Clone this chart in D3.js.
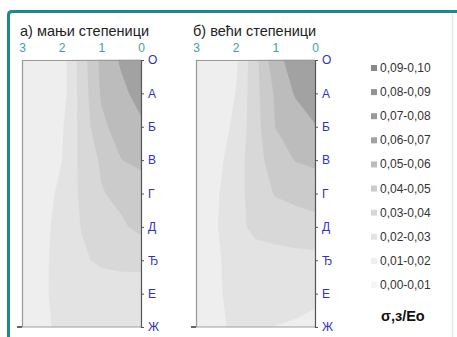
<!DOCTYPE html>
<html><head><meta charset="utf-8">
<script src="https://cdn.jsdelivr.net/npm/d3@7"></script>
<style>
html,body{margin:0;padding:0;background:#fff;}
svg{display:block;font-family:"Liberation Sans",Arial,sans-serif;}
</style></head>
<body>
<svg id="chart" width="457" height="337"></svg>
<script>
// ---------- data ----------
const panelTitles = ["а) мањи степеници", "б) већи степеници"];
const xTickValues = [3, 2, 1, 0];
const xTickLabels = ["3", "2", "1", "0"];
const rowLabels = ["О", "А", "Б", "В", "Г", "Д", "Ђ", "Е", "Ж"];
const gridX = [0, 0.5, 1, 1.5, 2, 2.5, 3];   // grid columns (distance)
const thresholds = [0.00, 0.01, 0.02, 0.03, 0.04, 0.05, 0.06, 0.07, 0.08, 0.09];
const legendLabels = ["0,09-0,10","0,08-0,09","0,07-0,08","0,06-0,07","0,05-0,06",
                      "0,04-0,05","0,03-0,04","0,02-0,03","0,01-0,02","0,00-0,01"];
const legendTitle = "σ,з/Eo";
// rows О..Ж, columns x = 0, 0.5, 1, 1.5, 2, 2.5, 3
const valuesSmaller = [
  [0.068, 0.0614, 0.0524, 0.0348, 0.0148, 0.012, 0.011],
  [0.064, 0.0573, 0.051, 0.0341, 0.015, 0.013, 0.012],
  [0.058, 0.0538, 0.048, 0.0332, 0.0185, 0.014, 0.013],
  [0.052, 0.0498, 0.0414, 0.0325, 0.0198, 0.015, 0.013],
  [0.0453, 0.0425, 0.0393, 0.0318, 0.0221, 0.016, 0.014],
  [0.0425, 0.0385, 0.0344, 0.0303, 0.0231, 0.0175, 0.015],
  [0.0325, 0.0323, 0.0315, 0.0287, 0.0235, 0.018, 0.016],
  [0.0255, 0.0255, 0.025, 0.024, 0.0215, 0.0192, 0.017],
  [0.024, 0.024, 0.0235, 0.023, 0.0215, 0.0185, 0.017]
];
const valuesLarger = [
  [0.067, 0.064, 0.057, 0.0371, 0.0175, 0.0135, 0.012],
  [0.0645, 0.0608, 0.0513, 0.0368, 0.0201, 0.0145, 0.013],
  [0.0595, 0.0548, 0.0501, 0.0363, 0.0218, 0.0155, 0.0135],
  [0.0515, 0.0503, 0.0447, 0.0362, 0.0247, 0.017, 0.0145],
  [0.0455, 0.0431, 0.0407, 0.0344, 0.0262, 0.0185, 0.0155],
  [0.0355, 0.0345, 0.0333, 0.0322, 0.0272, 0.019, 0.016],
  [0.0276, 0.0274, 0.027, 0.0262, 0.0238, 0.0185, 0.016],
  [0.0215, 0.0232, 0.0245, 0.0242, 0.0228, 0.0185, 0.0165],
  [0.0182, 0.019, 0.0198, 0.0215, 0.0212, 0.0185, 0.0165]
];
const palette = ["#f5f5f5","#eeeeee","#e3e3e3","#d8d8d8","#cbcbcb","#bcbcbc","#a2a2a2","#9a9a9a","#929292","#8a8a8a"];

// ---------- layout ----------
const svg = d3.select("#chart");
const yTop = 60, yBottom = 327;
const panels = [
  {x0: 22, x1: 141, values: valuesSmaller, title: panelTitles[0], tx: 20},
  {x0: 196, x1: 315, values: valuesLarger, title: panelTitles[1], tx: 193}
];

// frame
svg.append("path")
  .attr("d", "M8.5,337 V15 Q8.5,11.5 12,11.5 H457")
  .attr("fill", "none").attr("stroke", "#22878a").attr("stroke-width", 3);
svg.append("line").attr("x1", 452.5).attr("x2", 452.5).attr("y1", 14).attr("y2", 337)
  .attr("stroke", "#d8edf3").attr("stroke-width", 1.5);

const color = d3.scaleOrdinal().domain(thresholds).range(palette);
const yScale = d3.scaleLinear().domain([0, rowLabels.length - 1]).range([yTop, yBottom]);
const yBand = d3.scalePoint().domain(rowLabels).range([yTop, yBottom]);

panels.forEach((p, pi) => {
  const xScale = d3.scaleLinear().domain([3, 0]).range([p.x0, p.x1]);
  const nx = gridX.length, ny = rowLabels.length;
  const flat = p.values.flat();
  const contours = d3.contours().size([nx, ny]).thresholds(thresholds)(flat);
  const clamp = (v, n) => Math.max(0, Math.min(n - 1, v - 0.5));
  const proj = d3.geoTransform({
    point: function(x, y) {
      const gx = clamp(x, nx), gy = clamp(y, ny);
      const xd = gridX[0] + gx * (gridX[1] - gridX[0]);
      this.stream.point(xScale(xd), yScale(gy));
    }
  });
  const path = d3.geoPath(proj);
  const g = svg.append("g");
  g.append("rect").attr("x", p.x0).attr("y", yTop).attr("width", p.x1 - p.x0).attr("height", yBottom - yTop)
    .attr("fill", palette[0]);
  g.selectAll("path.c").data(contours).join("path").attr("class", "c")
    .attr("d", path)
    .attr("fill", d => color(d.value))
    .attr("stroke", d => color(d.value)).attr("stroke-width", 0.3);

  // plot frame (top, left, bottom)
  svg.append("line").attr("x1", p.x0).attr("x2", p.x1).attr("y1", yTop + 0.5).attr("y2", yTop + 0.5)
    .attr("stroke", "#9a9a9a").attr("stroke-width", 1);
  svg.append("line").attr("x1", p.x0 + 0.5).attr("x2", p.x0 + 0.5).attr("y1", yTop).attr("y2", yBottom)
    .attr("stroke", "#9a9a9a").attr("stroke-width", 1.2);
  svg.append("line").attr("x1", p.x0).attr("x2", p.x1).attr("y1", yBottom).attr("y2", yBottom)
    .attr("stroke", "#a0a0a0").attr("stroke-width", 1.2);
  svg.append("line").attr("x1", p.x0 - 5).attr("x2", p.x0).attr("y1", yBottom).attr("y2", yBottom)
    .attr("stroke", "#333").attr("stroke-width", 1.5);

  // right axis with row labels
  const ax = svg.append("g").attr("transform", `translate(${p.x1},0)`)
    .call(d3.axisRight(yBand).tickSize(3).tickSizeOuter(0).tickPadding(4));
  ax.select(".domain").attr("stroke", "#555").attr("stroke-width", 1.2);
  ax.selectAll(".tick line").attr("stroke", "#555");
  ax.selectAll(".tick text").attr("fill", "#3232c2").style("font-size", "12px")
    .style("font-family", "'Liberation Sans',Arial,sans-serif");

  // top axis labels
  const tax = svg.append("g").attr("transform", `translate(0,${yTop - 8})`)
    .call(d3.axisTop(xScale).tickValues(xTickValues).tickFormat((d, i) => xTickLabels[i]).tickSize(0).tickPadding(0));
  tax.select(".domain").remove();
  tax.selectAll(".tick text").attr("fill", "#3fa0a0").style("font-size", "12px")
    .style("font-family", "'Liberation Sans',Arial,sans-serif");

  // title
  svg.append("text").attr("x", p.tx).attr("y", 35.5).attr("fill", "#222")
    .style("font-size", "14.5px").text(p.title);
});

// legend
const legendY = d3.scalePoint().domain(legendLabels).range([68, 285]);
const lg = svg.append("g");
legendLabels.forEach((lab, i) => {
  const y = legendY(lab);
  lg.append("rect").attr("x", 371).attr("y", y - 3).attr("width", 6).attr("height", 6)
    .attr("fill", palette[palette.length - 1 - i]);
  lg.append("text").attr("x", 380).attr("y", y + 4).attr("fill", "#333")
    .style("font-size", "12px").text(lab);
});
lg.append("text").attr("x", 381).attr("y", 321).attr("fill", "#111")
  .style("font-size", "14.5px").style("font-weight", "bold").text(legendTitle);
</script>
</body></html>
